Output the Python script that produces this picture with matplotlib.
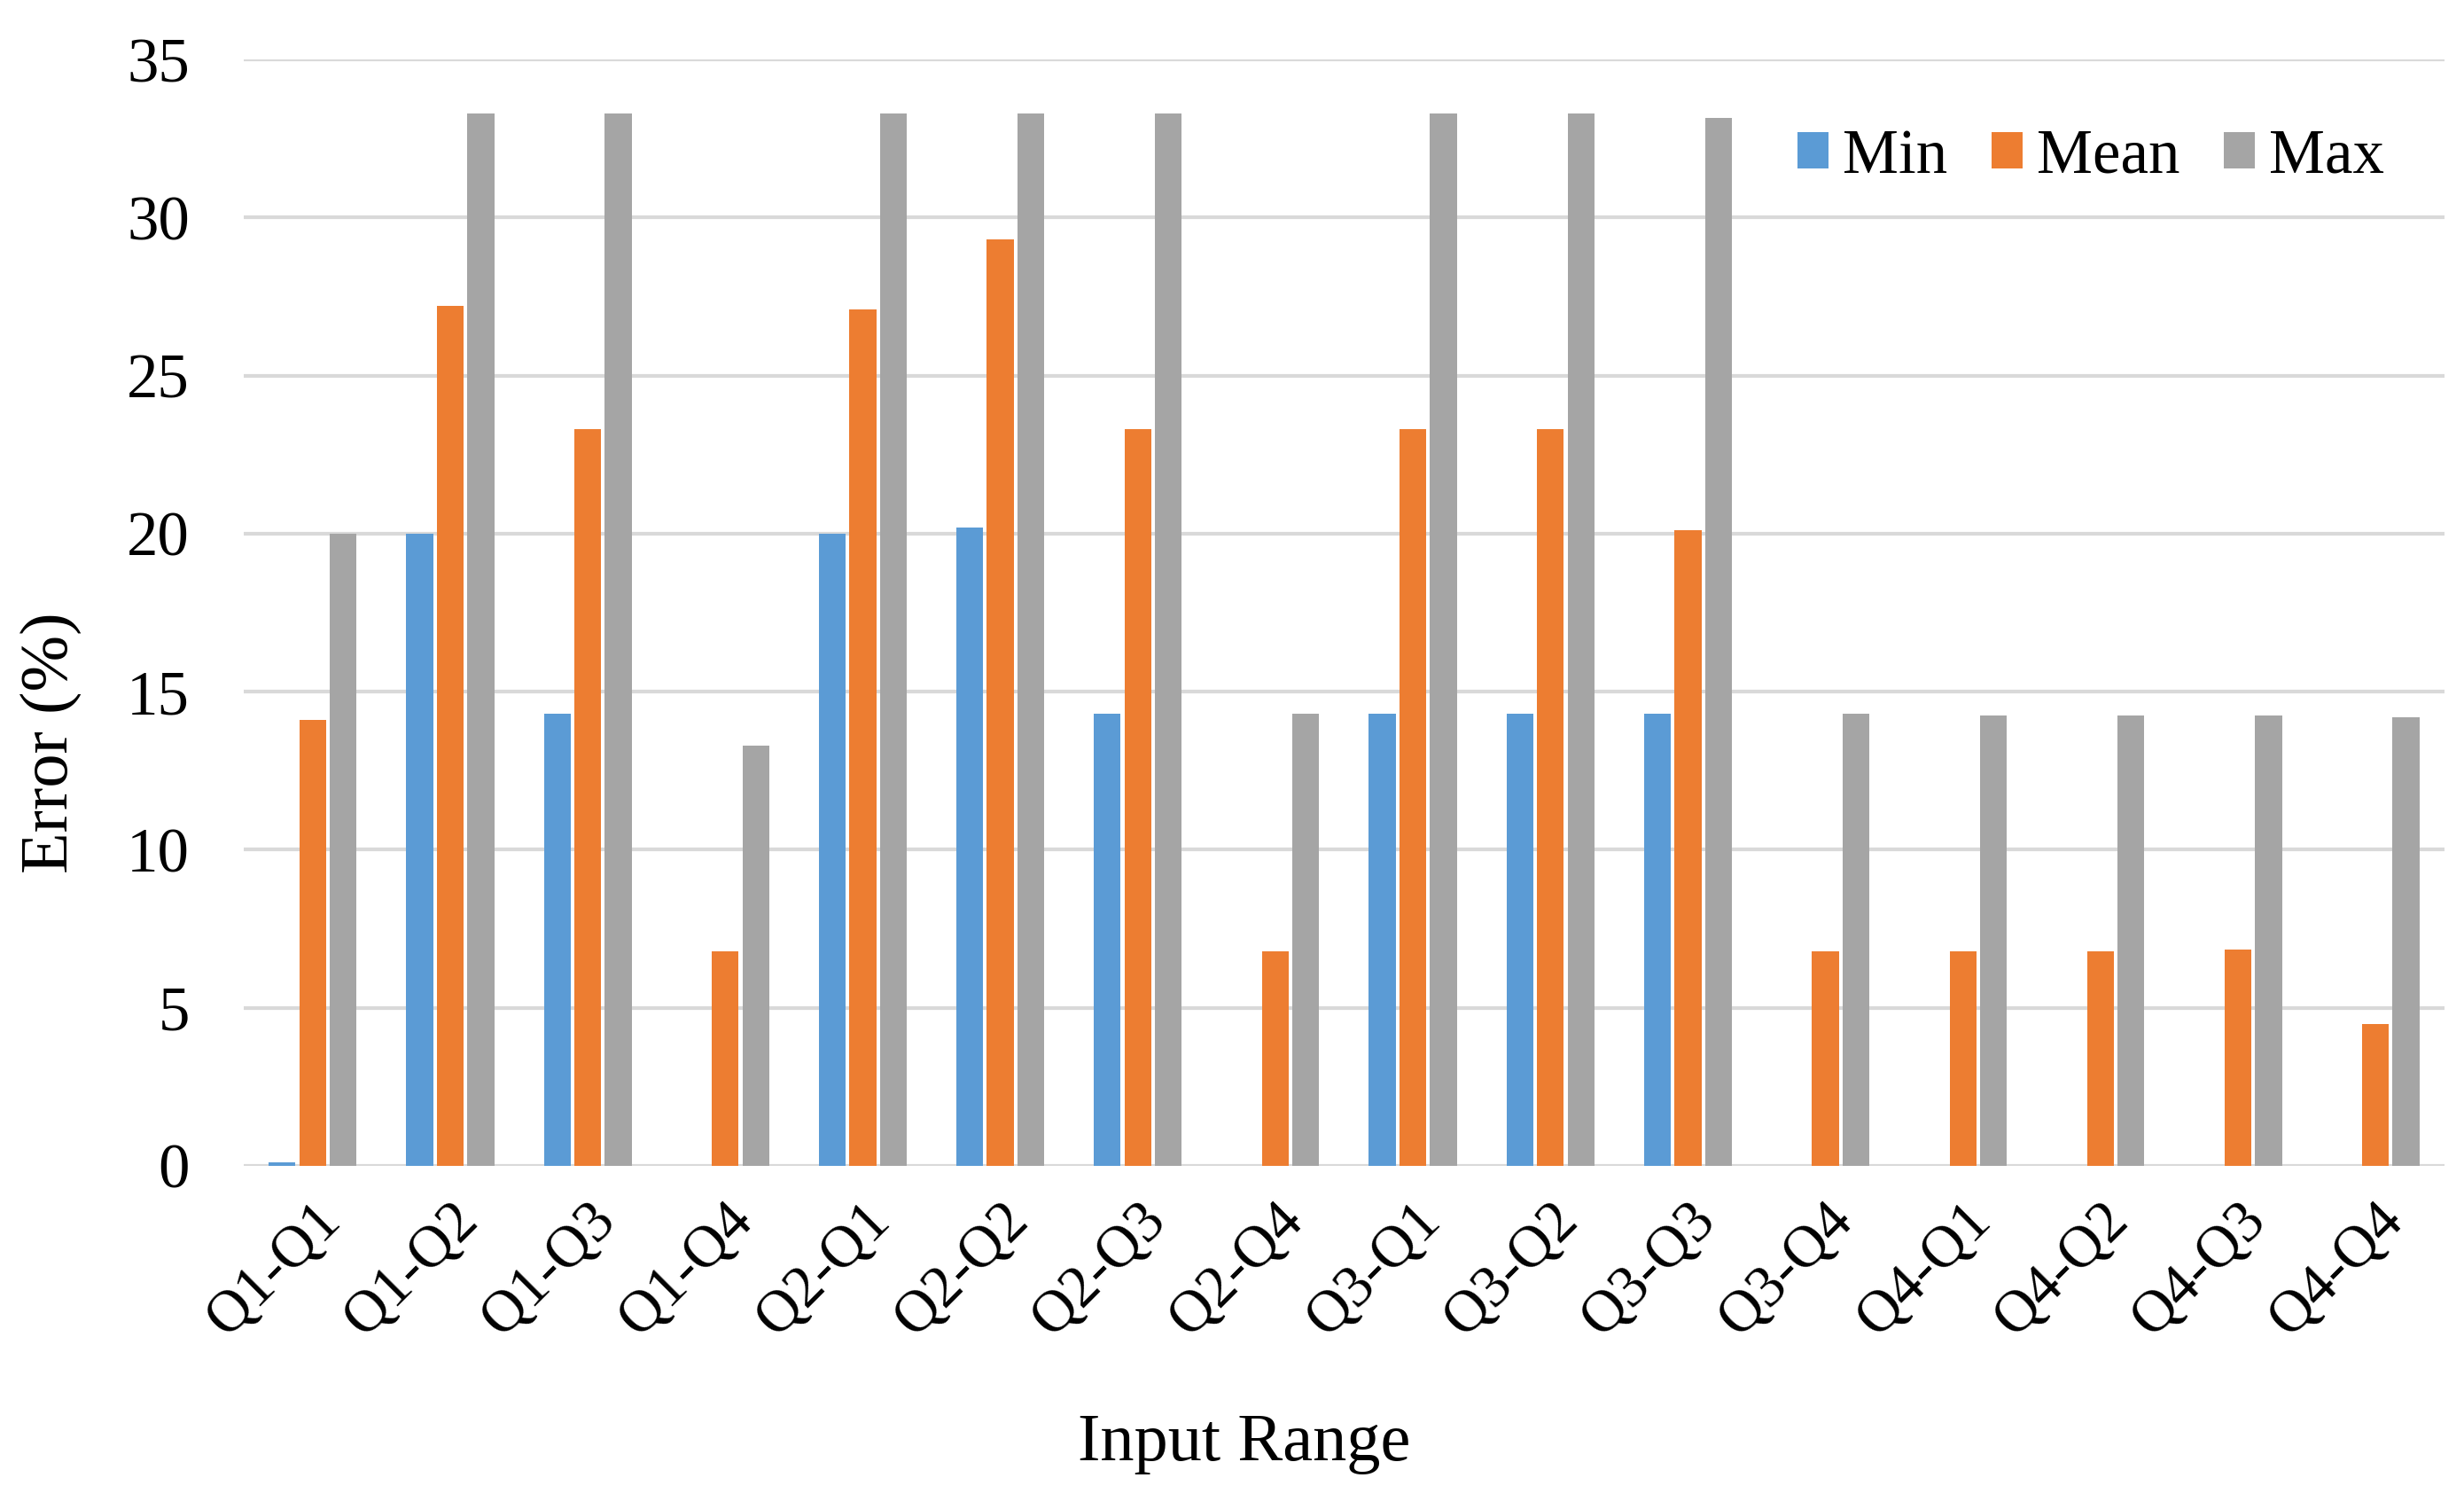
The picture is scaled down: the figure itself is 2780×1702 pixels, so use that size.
import matplotlib.pyplot as plt
import numpy as np

categories = ["Q1-Q1", "Q1-Q2", "Q1-Q3", "Q1-Q4", "Q2-Q1", "Q2-Q2", "Q2-Q3", "Q2-Q4",
              "Q3-Q1", "Q3-Q2", "Q3-Q3", "Q3-Q4", "Q4-Q1", "Q4-Q2", "Q4-Q3", "Q4-Q4"]
min_vals = [0.1, 20.0, 14.3, 0, 20.0, 20.2, 14.3, 0, 14.3, 14.3, 14.3, 0, 0, 0, 0, 0]
mean_vals = [14.1, 27.2, 23.3, 6.8, 27.1, 29.3, 23.3, 6.8, 23.3, 23.3, 20.1, 6.8, 6.8, 6.8, 6.85, 4.5]
max_vals = [20.0, 33.3, 33.3, 13.3, 33.3, 33.3, 33.3, 14.3, 33.3, 33.3, 33.15, 14.3, 14.25, 14.25, 14.25, 14.2]

plt.rcParams['font.family'] = ['Liberation Serif', 'DejaVu Serif']

fig = plt.figure(figsize=(27.8, 17.02), dpi=100)
ax = fig.add_axes([0.099, 0.2274, 0.893, 0.7332])

x = np.arange(len(categories))
w = 0.195
step = 0.222
ax.bar(x - step, min_vals, w, color='#5b9bd5', label='Min', zorder=3)
ax.bar(x, mean_vals, w, color='#ed7d31', label='Mean', zorder=3)
ax.bar(x + step, max_vals, w, color='#a5a5a5', label='Max', zorder=3)

ax.set_xlim(-0.5, 15.5)
ax.set_ylim(0, 35)
ax.set_yticks(range(0, 36, 5))
ax.yaxis.grid(True, color='#d9d9d9', linewidth=3, zorder=0)
ax.set_axisbelow(True)
for s in ax.spines.values():
    s.set_visible(False)
ax.tick_params(axis='y', length=0, labelsize=51, pad=44)
ax.tick_params(axis='x', length=0, labelsize=48, pad=22)
ax.set_xticks(x)
ax.set_xticklabels(categories, rotation=45, ha='right', rotation_mode='anchor')

fig.text(0.0205, 0.508, "Error (%)", rotation=90, ha='center', va='center', fontsize=55)
fig.text(0.505, 0.043, "Input Range", ha='center', va='center', fontsize=55)

ax.legend(loc='center right', bbox_to_anchor=(0.9676, 0.896), bbox_transform=fig.transFigure,
          ncol=3, frameon=False, fontsize=51, handlelength=0.5, handleheight=0.5,
          handletextpad=0.22, columnspacing=0.7, borderaxespad=0, borderpad=0)

fig.savefig('out.png', dpi=100)
